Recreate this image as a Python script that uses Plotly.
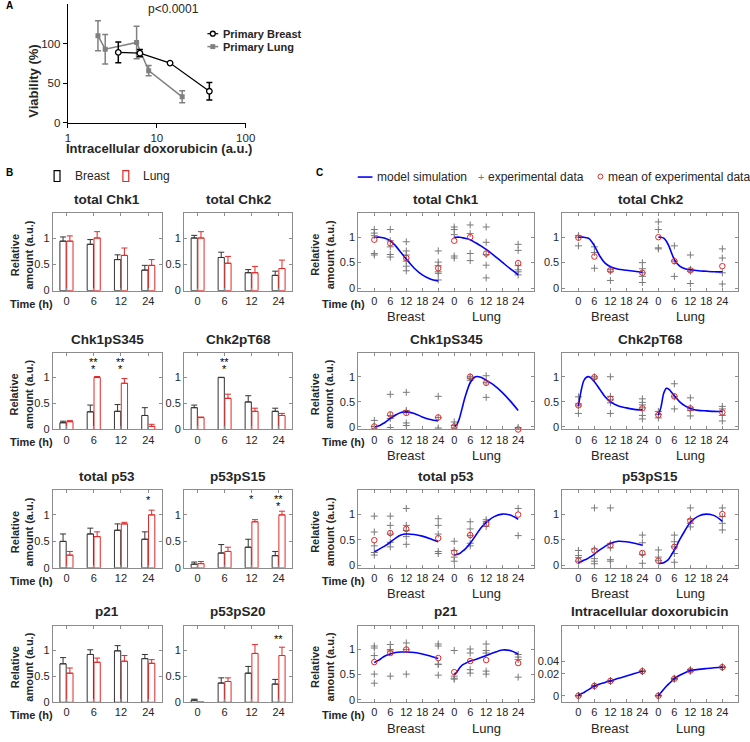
import plotly.graph_objects as go

W, H = 750, 742
FONT = "Liberation Sans, Arial, Helvetica, sans-serif"
TXT = "#262626"
BOXC = "#8c8c8c"
RED = "rgb(228,40,40)"
GRAY = "#7a7a7a"

# ---------------- Panel A data ----------------
A_breast_x = [3.69, 6.46, 14.1, 39.0]
A_breast_y = [89, 88, 75.5, 40]
A_breast_err = [13, 4.5, 1, 11]
A_lung_x = [2.18, 2.63, 5.93, 8.1, 19.3]
A_lung_y = [110, 93, 101.5, 66, 33]
A_lung_err = [19, 18.5, 20.5, 6.5, 7.5]

# ---------------- Panel B data ----------------
B_times = ["0", "6", "12", "24"]
B_titles = ["total Chk1", "total Chk2", "Chk1pS345", "Chk2pT68",
            "total p53", "p53pS15", "p21", "p53pS20"]
B_breast = [[0.94, 0.88, 0.59, 0.39], [1.0, 0.63, 0.34, 0.29],
            [0.13, 0.34, 0.35, 0.27], [0.42, 1.0, 0.53, 0.35],
            [0.50, 0.64, 0.71, 0.54], [0.07, 0.28, 0.39, 0.23],
            [0.74, 0.92, 0.99, 0.84], [0.04, 0.37, 0.56, 0.35]]
B_breast_err = [[0.08, 0.09, 0.09, 0.09], [0.05, 0.10, 0.06, 0.08],
                [0.03, 0.13, 0.13, 0.15], [0.05, 0.005, 0.12, 0.06],
                [0.14, 0.11, 0.12, 0.14], [0.04, 0.16, 0.15, 0.08],
                [0.12, 0.09, 0.10, 0.08], [0.02, 0.10, 0.13, 0.09]]
B_lung = [[0.94, 1.0, 0.67, 0.48], [1.0, 0.52, 0.34, 0.42],
          [0.15, 1.0, 0.89, 0.06], [0.23, 0.60, 0.35, 0.27],
          [0.24, 0.59, 0.83, 1.0], [0.08, 0.31, 0.87, 1.0],
          [0.56, 0.77, 0.79, 0.75], [0.0, 0.40, 0.94, 0.90]]
B_lung_err = [[0.10, 0.12, 0.14, 0.11], [0.12, 0.13, 0.12, 0.16],
              [0.02, 0.02, 0.09, 0.04], [0.01, 0.08, 0.06, 0.04],
              [0.07, 0.09, 0.03, 0.09], [0.04, 0.08, 0.04, 0.07],
              [0.10, 0.08, 0.11, 0.07], [0.0, 0.07, 0.17, 0.16]]
# significance marks: (panel index, time category 1..4, text, height)
B_stars = [(2, 2, "**", 1.35), (2, 2, "*", 1.22), (2, 3, "**", 1.35), (2, 3, "*", 1.22),
           (3, 2, "**", 1.35), (3, 2, "*", 1.22),
           (4, 4, "*", 1.33),
           (5, 3, "*", 1.35), (5, 4, "**", 1.35), (5, 4, "*", 1.22),
           (7, 4, "**", 1.27)]

# ---------------- Panel C data ----------------
C_times = [0, 6, 12, 24]
LUNG_OFFSET = 30
MODEL_T = [0, 1, 2, 3, 4, 6, 8, 10, 12, 15, 18, 21, 24]
C_titles = ["total Chk1", "total Chk2", "Chk1pS345", "Chk2pT68",
            "total p53", "p53pS15", "p21", "Intracellular doxorubicin"]

chk1_pts_breast = [[1.15, 1.08, 1.03, 0.68, 0.65], [1.15, 0.93, 0.81, 0.66, 0.61],
                   [0.91, 0.73, 0.65, 0.53, 0.43, 0.34], [0.73, 0.51, 0.44, 0.32, 0.29, 0.16]]
chk1_mean_breast = [0.95, 0.88, 0.59, 0.39]
chk1_model_breast = [1.0, 1.0, 1.0, 0.99, 0.98, 0.93, 0.83, 0.70, 0.57, 0.39, 0.26, 0.18, 0.14]
chk1_pts_lung = [[1.2, 1.15, 1.05, 0.63, 0.59], [1.24, 1.07, 0.68, 0.54],
                 [1.2, 0.9, 0.66, 0.45, 0.2], [0.86, 0.74, 0.44, 0.36, 0.32, 0.26]]
chk1_mean_lung = [0.93, 1.0, 0.68, 0.49]
chk1_model_lung = [1.0, 1.0, 1.0, 0.99, 0.98, 0.95, 0.89, 0.83, 0.76, 0.64, 0.51, 0.38, 0.26]

chk2_pts_breast = [[1.03, 1.0, 0.83], [0.81, 0.7, 0.39], [0.37, 0.33, 0.15],
                   [0.5, 0.38, 0.3, 0.23, 0.11]]
chk2_mean_breast = [0.99, 0.62, 0.35, 0.30]
chk2_model_breast = [1.0, 1.0, 1.0, 0.99, 0.97, 0.83, 0.63, 0.49, 0.42, 0.37, 0.35, 0.33, 0.31]
chk2_pts_lung = [[1.3, 1.15, 0.79, 0.77], [0.83, 0.53, 0.23], [0.65, 0.37, 0.33, 0.09],
                 [0.77, 0.59, 0.3, 0.08]]
chk2_mean_lung = [1.0, 0.53, 0.35, 0.43]
chk2_model_lung = [1.0, 1.0, 0.98, 0.92, 0.82, 0.56, 0.43, 0.38, 0.36, 0.34, 0.33, 0.32, 0.32]

chk1p_pts_breast = [[0.13, 0.01, -0.04], [0.65, 0.23, 0.17, -0.01],
                    [0.69, 0.33, 0.3, 0.08, 0.03], [0.61, 0.19, -0.02, -0.045]]
chk1p_mean_breast = [0.01, 0.25, 0.28, 0.19]
chk1p_model_breast = [0.0, 0.01, 0.03, 0.06, 0.09, 0.17, 0.24, 0.29, 0.30, 0.27, 0.20, 0.15, 0.12]
chk1p_pts_lung = [[0.1, 0.03, -0.02], [1.0, 0.97, 0.93], [1.02, 0.88, 0.59], [-0.01, -0.04]]
chk1p_mean_lung = [0.01, 1.0, 0.88, -0.05]
chk1p_model_lung = [0.0, 0.05, 0.18, 0.38, 0.58, 0.88, 1.0, 0.99, 0.93, 0.83, 0.69, 0.52, 0.33]

chk2p_pts_breast = [[0.6, 0.46, 0.42, 0.27], [1.0, 0.97], [1.0, 0.61, 0.54, 0.48, 0.27],
                    [0.56, 0.49, 0.44, 0.38, 0.23, 0.16]]
chk2p_mean_breast = [0.43, 0.99, 0.56, 0.37]
chk2p_model_breast = [0.42, 0.72, 0.92, 0.99, 1.0, 0.90, 0.75, 0.60, 0.50, 0.42, 0.38, 0.35, 0.34]
chk2p_pts_lung = [[0.31, 0.25, 0.18], [0.86, 0.6, 0.36], [0.58, 0.38, 0.33, 0.22],
                  [0.41, 0.36, 0.23, 0.12]]
chk2p_mean_lung = [0.24, 0.61, 0.37, 0.29]
chk2p_model_lung = [0.24, 0.40, 0.67, 0.77, 0.75, 0.62, 0.50, 0.42, 0.37, 0.33, 0.32, 0.31, 0.31]

p53_pts_breast = [[0.96, 0.65, 0.38, 0.25, 0.2], [0.96, 0.78, 0.61, 0.45, 0.36],
                  [1.11, 0.78, 0.68, 0.56, 0.41], [0.91, 0.78, 0.61, 0.27, 0.23]]
p53_mean_breast = [0.49, 0.63, 0.71, 0.53]
p53_model_breast = [0.27, 0.29, 0.32, 0.35, 0.38, 0.45, 0.53, 0.59, 0.61, 0.60, 0.57, 0.52, 0.46]
p53_pts_lung = [[0.47, 0.29, 0.16, 0.08], [0.85, 0.71, 0.58, 0.43, 0.38], [0.89, 0.85, 0.76],
                [1.11, 0.58]]
p53_mean_lung = [0.25, 0.59, 0.81, 0.99]
p53_model_lung = [0.20, 0.21, 0.23, 0.27, 0.31, 0.43, 0.58, 0.73, 0.84, 0.95, 1.0, 0.98, 0.90]

p53s15_pts_breast = [[0.29, 0.19, 0.15, 0.08], [1.12, 0.32, 0.13, 0.08, 0.03],
                     [1.12, 0.42, 0.34, 0.11, 0.08], [0.59, 0.44, 0.21, 0.04]]
p53s15_mean_breast = [0.09, 0.29, 0.39, 0.24]
p53s15_model_breast = [0.05, 0.07, 0.10, 0.12, 0.15, 0.22, 0.30, 0.37, 0.43, 0.47, 0.46, 0.43, 0.39]
p53s15_pts_lung = [[0.3, 0.16, 0.09], [0.59, 0.46, 0.36, 0.23, 0.06], [1.12, 0.9, 0.82, 0.75],
                   [1.12, 0.95, 0.82, 0.69]]
p53s15_mean_lung = [0.09, 0.36, 0.87, 1.0]
p53s15_model_lung = [0.03, 0.04, 0.05, 0.08, 0.13, 0.30, 0.50, 0.68, 0.84, 0.96, 1.0, 0.97, 0.86]

p21_pts_breast = [[1.07, 1.03, 0.88, 0.51, 0.33], [1.1, 1.0, 0.97, 0.47], [1.13, 1.0, 0.51],
                  [1.11, 1.07, 0.71, 0.7, 0.49]]
p21_mean_breast = [0.75, 0.93, 1.0, 0.83]
p21_model_breast = [0.74, 0.77, 0.80, 0.84, 0.87, 0.91, 0.94, 0.95, 0.95, 0.94, 0.91, 0.87, 0.82]
p21_pts_lung = [[0.98, 0.47, 0.43, 0.41], [1.01, 0.93, 0.6, 0.53], [1.11, 0.98, 0.93, 0.57, 0.51],
                [0.9, 0.85, 0.8, 0.45]]
p21_mean_lung = [0.55, 0.77, 0.79, 0.73]
p21_model_lung = [0.50, 0.55, 0.63, 0.69, 0.72, 0.77, 0.80, 0.84, 0.88, 0.94, 0.99, 0.98, 0.91]

dox_pts_breast = [[0.0, 0.0], [0.0055, 0.006], [0.0105, 0.0112], [0.0232, 0.0242]]
dox_mean_breast = [0.0, 0.0058, 0.0109, 0.0238]
dox_model_breast = [0.0, 0.0005, 0.001, 0.002, 0.003, 0.0058, 0.0076, 0.0093, 0.0109, 0.014, 0.0169, 0.0205, 0.0238]
dox_pts_lung = [[0.0, 0.0], [0.013, 0.014], [0.0238, 0.026], [0.0295, 0.0305]]
dox_mean_lung = [0.0, 0.0136, 0.0248, 0.030]
dox_model_lung = [0.0, 0.001, 0.003, 0.0055, 0.008, 0.0136, 0.018, 0.0215, 0.0248, 0.0265, 0.0278, 0.029, 0.030]
DOX_TICKS = [0, 0.02, 0.04]

C_data = [
    (chk1_pts_breast, chk1_mean_breast, chk1_model_breast, chk1_pts_lung, chk1_mean_lung, chk1_model_lung),
    (chk2_pts_breast, chk2_mean_breast, chk2_model_breast, chk2_pts_lung, chk2_mean_lung, chk2_model_lung),
    (chk1p_pts_breast, chk1p_mean_breast, chk1p_model_breast, chk1p_pts_lung, chk1p_mean_lung, chk1p_model_lung),
    (chk2p_pts_breast, chk2p_mean_breast, chk2p_model_breast, chk2p_pts_lung, chk2p_mean_lung, chk2p_model_lung),
    (p53_pts_breast, p53_mean_breast, p53_model_breast, p53_pts_lung, p53_mean_lung, p53_model_lung),
    (p53s15_pts_breast, p53s15_mean_breast, p53s15_model_breast, p53s15_pts_lung, p53s15_mean_lung, p53s15_model_lung),
    (p21_pts_breast, p21_mean_breast, p21_model_breast, p21_pts_lung, p21_mean_lung, p21_model_lung),
    (dox_pts_breast, dox_mean_breast, dox_model_breast, dox_pts_lung, dox_mean_lung, dox_model_lung),
]


def dox_scale(v):
    # the doxorubicin axis of the original is compressed (power-like)
    return (max(v, 0) / 0.04) ** 0.65


# ---------------- layout geometry (pixels) ----------------
ROWS = [(215, 293), (356, 433), (494, 572.5), (631, 708)]
B_COLS = [(50.7, 161.7), (184.3, 294.2)]
C_COLS = [(361.6, 540.5), (569.3, 748.3)]


def dx(x0, x1):
    return [x0 / W, x1 / W]


def dy(top, bottom):
    return [1 - bottom / H, 1 - top / H]


def px(x):
    return x / W


def py(y):
    return 1 - y / H


fig = go.Figure()
annotations = []
shapes = []
layout = {}


def ann(text, x, y, xref="paper", yref="paper", size=12, bold=False, color=TXT,
        xanchor="center", yanchor="middle", textangle=0, xshift=0, yshift=0):
    if bold:
        text = "<b>" + text + "</b>"
    annotations.append(dict(text=text, x=x, y=y, xref=xref, yref=yref, showarrow=False,
                            font=dict(family=FONT, size=size, color=color),
                            xanchor=xanchor, yanchor=yanchor, textangle=textangle,
                            xshift=xshift, yshift=yshift, align="center", borderpad=0))


# ================= Panel A =================
fig.add_trace(go.Scatter(
    x=A_lung_x, y=A_lung_y, mode="lines+markers", xaxis="x", yaxis="y",
    line=dict(color="#808080", width=1.5),
    marker=dict(symbol="square", size=5, color="#808080"),
    error_y=dict(type="data", array=A_lung_err, color="#808080", thickness=1.5, width=3)))
fig.add_trace(go.Scatter(
    x=A_breast_x, y=A_breast_y, mode="lines+markers", xaxis="x", yaxis="y",
    line=dict(color="black", width=1.2),
    marker=dict(symbol="circle", size=5.5, color="white", line=dict(color="black", width=1.3)),
    error_y=dict(type="data", array=A_breast_err, color="black", thickness=1.5, width=3)))
layout["xaxis"] = dict(domain=dx(66, 247), type="log", range=[0, 2], tickvals=[1, 10, 100],
                       ticktext=["1", "10", "100"], showline=True, linecolor="black", linewidth=1.3,
                       ticks="outside", ticklen=4, tickwidth=1.3, tickcolor="black",
                       showgrid=False, zeroline=False, anchor="y",
                       tickfont=dict(family=FONT, size=11.5, color=TXT))
layout["yaxis"] = dict(domain=dy(4, 124), range=[0, 150], tickvals=[0, 50, 100],
                       showline=True, linecolor="black", linewidth=1.3,
                       ticks="outside", ticklen=4, tickwidth=1.3, tickcolor="black",
                       showgrid=False, zeroline=False, anchor="x",
                       tickfont=dict(family=FONT, size=11.5, color=TXT))
ann("Viability (%)", px(31), py(82), size=13, bold=True, textangle=-90)
ann("Intracellular doxorubicin (a.u.)", px(159), py(150), size=13, bold=True)
ann("p<0.0001", px(173), py(9), size=12)
# legend A
shapes.append(dict(type="line", xref="paper", yref="paper", x0=px(208), x1=px(219), y0=py(34), y1=py(34),
                   line=dict(color="black", width=1.2)))
shapes.append(dict(type="circle", xref="paper", yref="paper", x0=px(211), x1=px(216), y0=py(36.5), y1=py(31.5),
                   line=dict(color="black", width=1.3), fillcolor="white"))
shapes.append(dict(type="line", xref="paper", yref="paper", x0=px(208), x1=px(219), y0=py(47), y1=py(47),
                   line=dict(color="#808080", width=1.5)))
shapes.append(dict(type="rect", xref="paper", yref="paper", x0=px(211), x1=px(216), y0=py(49.5), y1=py(44.5),
                   line=dict(color="#808080", width=0), fillcolor="#808080"))
ann("Primary Breast", px(223), py(34), size=11, bold=True, xanchor="left")
ann("Primary Lung", px(223), py(47), size=11, bold=True, xanchor="left")
ann("A", px(2), py(6), size=10, bold=True, xanchor="left", color="black")

# ================= Panel B =================
for i in range(8):
    n = 2 + i
    r, c = divmod(i, 2)
    top, bot = ROWS[r]
    x0, x1 = B_COLS[c]
    xa, ya = "x%d" % n, "y%d" % n
    fig.add_trace(go.Bar(
        x=[1, 2, 3, 4], y=B_breast[i], xaxis=xa, yaxis=ya,
        marker=dict(color="white", line=dict(color="#333333", width=1)),
        error_y=dict(type="data", array=B_breast_err[i], arrayminus=[0, 0, 0, 0], symmetric=False,
                     color="#333333", thickness=1, width=3)))
    fig.add_trace(go.Bar(
        x=[1, 2, 3, 4], y=B_lung[i], xaxis=xa, yaxis=ya,
        marker=dict(color="white", line=dict(color=RED, width=1)),
        error_y=dict(type="data", array=B_lung_err[i], arrayminus=[0, 0, 0, 0], symmetric=False,
                     color=RED, thickness=1, width=3)))
    layout["xaxis%d" % n] = dict(domain=dx(x0, x1), range=[0.5, 4.5], tickvals=[1, 2, 3, 4],
                                 ticktext=B_times, anchor=ya, showline=True, mirror="ticks",
                                 linecolor=BOXC, linewidth=1, ticks="inside", ticklen=3,
                                 tickcolor=BOXC, showgrid=False, zeroline=False,
                                 tickfont=dict(family=FONT, size=11, color=TXT))
    layout["yaxis%d" % n] = dict(domain=dy(top, bot), range=[0, 1.47], tickvals=[0, 0.5, 1],
                                 ticktext=["0", "0.5", "1"], anchor=xa, showline=True, mirror="ticks",
                                 linecolor=BOXC, linewidth=1, ticks="inside", ticklen=3,
                                 tickcolor=BOXC, showgrid=False, zeroline=False,
                                 tickfont=dict(family=FONT, size=11, color=TXT))
    ann(B_titles[i], 0.5, 1, xref=xa + " domain", yref=ya + " domain", size=13.5, bold=True, yshift=14)
    if c == 0:
        ann("Relative<br>amount (a.u.)", px(19), py((top + bot) / 2 + 3), size=11, bold=True, textangle=-90)
        ann("Time (h)", px(29), 0, yref=ya + " domain", size=11, bold=True, yshift=-13)

for (pi, cat, txt, h) in B_stars:
    n = 2 + pi
    ann(txt, cat, h, xref="x%d" % n, yref="y%d" % n, size=11, yshift=-3, color="black")

# legend B
shapes.append(dict(type="rect", xref="paper", yref="paper", x0=px(52), x1=px(58), y0=py(183), y1=py(172),
                   line=dict(color="black", width=1.2), fillcolor="white"))
shapes.append(dict(type="rect", xref="paper", yref="paper", x0=px(122), x1=px(128), y0=py(183), y1=py(172),
                   line=dict(color=RED, width=1.2), fillcolor="white"))
ann("Breast", px(72), py(177.5), size=12, xanchor="left")
ann("Lung", px(141), py(177.5), size=12, xanchor="left")
ann("B", px(2), py(174), size=10, bold=True, xanchor="left", color="black")

# ================= Panel C =================
C_TICKV = [0, 6, 12, 18, 24, 30, 36, 42, 48, 54]
C_TICKT = ["0", "6", "12", "18", "24", "0", "6", "12", "18", "24"]
for i in range(8):
    n = 10 + i
    r, c = divmod(i, 2)
    top, bot = ROWS[r]
    x0, x1 = C_COLS[c]
    xa, ya = "x%d" % n, "y%d" % n
    pts_b, mean_b, model_b, pts_l, mean_l, model_l = C_data[i]
    is_dox = (i == 7)
    f = dox_scale if is_dox else (lambda v: v)
    pcol = "#555555" if is_dox else GRAY
    for pts, mean, model, off in ((pts_b, mean_b, model_b, 0), (pts_l, mean_l, model_l, LUNG_OFFSET)):
        xs, ys = [], []
        for t, vals in zip(C_times, pts):
            for v in vals:
                xs.append(t + off)
                ys.append(f(v))
        fig.add_trace(go.Scatter(x=xs, y=ys, mode="markers", xaxis=xa, yaxis=ya, cliponaxis=True,
                                 marker=dict(symbol="cross-thin", size=5, color=pcol,
                                             line=dict(color=pcol, width=1))))
        fig.add_trace(go.Scatter(x=[t + off for t in MODEL_T], y=[f(v) for v in model],
                                 mode="lines", xaxis=xa, yaxis=ya, line=dict(color="#0000ff", width=1.6,
                                                                            shape="spline", smoothing=0.8)))
        fig.add_trace(go.Scatter(x=[t + off for t in C_times], y=[f(v) for v in mean], mode="markers",
                                 xaxis=xa, yaxis=ya, cliponaxis=False,
                                 marker=dict(symbol="circle-open", size=5.5, color=RED,
                                             line=dict(color=RED, width=1))))
    if is_dox:
        yr = [-0.19, 2.03]
        ytv = [dox_scale(v) for v in DOX_TICKS]
        ytt = ["0", "0.02", "0.04"]
    else:
        yr = [-0.05, 1.47]
        ytv = [0, 0.5, 1]
        ytt = ["0", "0.5", "1"]
    layout["xaxis%d" % n] = dict(domain=dx(x0, x1), range=[-6, 60], tickvals=C_TICKV, ticktext=C_TICKT,
                                 anchor=ya, showline=True, mirror="ticks", linecolor=BOXC, linewidth=1,
                                 ticks="inside", ticklen=3, tickcolor=BOXC, showgrid=False, zeroline=False,
                                 tickfont=dict(family=FONT, size=11, color=TXT))
    layout["yaxis%d" % n] = dict(domain=dy(top, bot), range=yr, tickvals=ytv, ticktext=ytt,
                                 anchor=xa, showline=True, mirror="ticks", linecolor=BOXC, linewidth=1,
                                 ticks="inside", ticklen=3, tickcolor=BOXC, showgrid=False, zeroline=False,
                                 tickfont=dict(family=FONT, size=11, color=TXT))
    ann(C_titles[i], 0.5, 1, xref=xa + " domain", yref=ya + " domain", size=13.5, bold=True, yshift=14)
    ann("Breast", 12, 0, xref=xa, yref=ya + " domain", size=13, yshift=-26)
    ann("Lung", 42, 0, xref=xa, yref=ya + " domain", size=13, yshift=-26)
    if c == 0:
        ann("Relative<br>amount (a.u.)", px(325), py((top + bot) / 2 + 3), size=11, bold=True, textangle=-90)
        ann("Time (h)", px(346), 0, yref=ya + " domain", size=11, bold=True, yshift=-13)

# legend C
shapes.append(dict(type="line", xref="paper", yref="paper", x0=px(361), x1=px(376), y0=py(178.5), y1=py(178.5),
                   line=dict(color="#0000ff", width=1.6)))
ann("model simulation", px(380), py(178), size=12, xanchor="left")
ann("+", px(486), py(178), size=11, color=GRAY)
ann("experimental data", px(493), py(178), size=12, xanchor="left")
shapes.append(dict(type="circle", xref="paper", yref="paper", x0=px(605.5), x1=px(610.5), y0=py(180.5), y1=py(175.5),
                   line=dict(color=RED, width=1)))
ann("mean of experimental data", px(615), py(178), size=12, xanchor="left")
ann("C", px(318), py(174), size=10, bold=True, xanchor="left", color="black")

layout.update(dict(width=W, height=H, margin=dict(l=0, r=0, t=0, b=0), showlegend=False,
                   plot_bgcolor="white", paper_bgcolor="white", barmode="group",
                   bargap=0.5, bargroupgap=0.08, annotations=annotations, shapes=shapes,
                   font=dict(family=FONT, color=TXT)))
fig.update_layout(**layout)
fig.write_html("out.html", config={"displayModeBar": False},
               post_script="document.body.style.margin='0';document.body.style.overflow='hidden';")
